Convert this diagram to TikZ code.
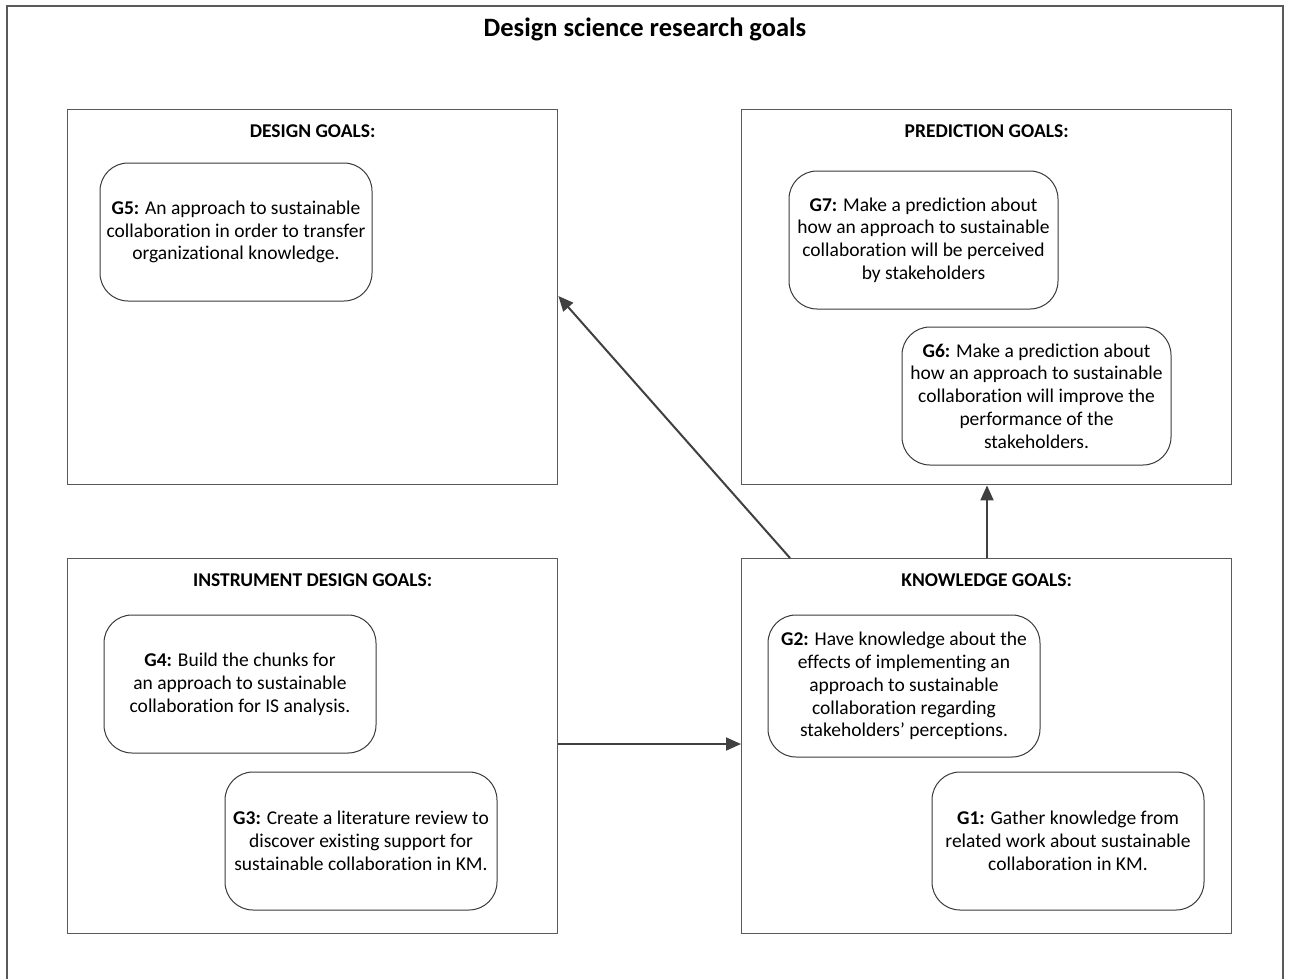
\documentclass[tikz,border=0pt]{standalone}
\usepackage{fontspec}
\setmainfont{Carlito}[Ligatures={NoCommon}]
\usetikzlibrary{arrows.meta,calc}
\definecolor{frameline}{HTML}{5A5A5A}
\definecolor{arrowline}{HTML}{404040}
\definecolor{roundline}{HTML}{3A3A3A}
\tikzset{
  x=1pt, y=-1pt,
  groupbox/.style={draw=frameline, line width=1.4pt, rectangle, anchor=north west,
    minimum width=490pt, minimum height=375pt, inner sep=0pt},
  grouphead/.style={font=\fontsize{19.5}{22}\selectfont\bfseries, anchor=center},
  goalbox/.style={draw=roundline, line width=1pt, rounded corners=28pt, align=center,
    minimum width=272pt, minimum height=138pt, inner sep=0pt,
    font=\fontsize{19.5}{22.8}\selectfont},
  flow/.style={draw=arrowline, line width=2pt,
    -{Triangle[length=15pt,width=13pt]}}
}
\begin{document}
\begin{tikzpicture}
\useasboundingbox (0,0) rectangle (1291,978);
% outer frame
\draw[frameline, line width=1.4pt] (7,6) rectangle (1283,990);
\node[font=\fontsize{26.5}{30}\selectfont\bfseries] (title) at (645,29) {Design science research goals};

% goal groups
\node[groupbox] (des) at (67,109) {};
\node[groupbox] (pre) at (741,109) {};
\node[groupbox] (ins) at (67,558) {};
\node[groupbox] (kno) at (741,558) {};

\node[grouphead] (deshead) at ($(des.north)+(0,22)$) {DESIGN GOALS:};
\node[grouphead] (prehead) at ($(pre.north)+(0,22)$) {PREDICTION GOALS:};
\node[grouphead] (inshead) at ($(ins.north)+(0,22)$) {INSTRUMENT DESIGN GOALS:};
\node[grouphead] (knohead) at ($(kno.north)+(0,22)$) {KNOWLEDGE GOALS:};

% individual goals
\node[goalbox] (g5) at (236,232) {\textbf{G5:} An approach to sustainable\\collaboration in order to transfer\\organizational knowledge.};
\node[goalbox, minimum width=269pt] (g7) at (923.5,240) {\textbf{G7:} Make a prediction about\\how an approach to sustainable\\collaboration will be perceived\\by stakeholders};
\node[goalbox, minimum width=269pt] (g6) at (1036.5,396) {\textbf{G6:} Make a prediction about\\how an approach to sustainable\\collaboration will improve the\\performance of the\\stakeholders.};
\node[goalbox] (g4) at (240,684) {\textbf{G4:} Build the chunks for\\an approach to sustainable\\collaboration for IS analysis.};
\node[goalbox] (g3) at (361,841) {\textbf{G3:} Create a literature review to\\discover existing support for\\sustainable collaboration in KM.};
\node[goalbox, minimum height=142pt] (g2) at (904,686) {\textbf{G2:} Have knowledge about the\\effects of implementing an\\approach to sustainable\\collaboration regarding\\stakeholders’ perceptions.};
\node[goalbox] (g1) at (1068,841) {\textbf{G1:} Gather knowledge from\\related work about sustainable\\collaboration in KM.};

% connections between the groups
\draw[flow] ($(kno.north west)+(49,0)$) -- ($(des.north east)+(0,187)$);
\draw[flow] ($(kno.north west)+(246,0)$) -- ($(pre.south west)+(246,0)$);
\draw[flow] ($(ins.north east)+(0,186)$) -- ($(kno.north west)+(0,186)$);
\end{tikzpicture}
\end{document}
